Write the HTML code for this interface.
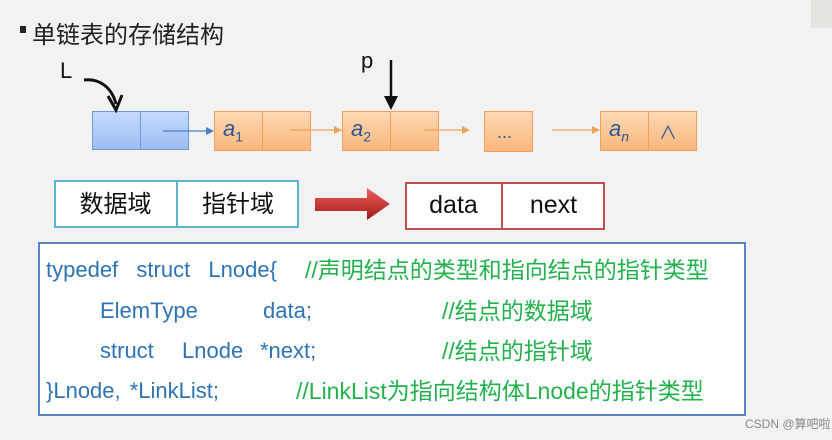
<!DOCTYPE html>
<html><head><meta charset="utf-8"><style>
body{margin:0;width:832px;height:440px;background:#f2f2f2;position:relative;overflow:hidden;font-family:"Liberation Sans","Noto Sans CJK SC",sans-serif}
.a{position:absolute;white-space:nowrap}
.bl{position:absolute;border:1.5px solid #6f9bd8;background:linear-gradient(#c6dafc,#9bbdf2);box-sizing:border-box}
.or{position:absolute;border:1.5px solid #f0a058;background:linear-gradient(#fdd9b5,#f9b77a);box-sizing:border-box}
.t{position:absolute;font-family:"Liberation Sans",sans-serif;font-style:italic;color:#2f5597;font-size:22px}
.code{position:absolute;font-size:22px;color:#2e74b5;white-space:pre;line-height:24px;word-spacing:3px}
.g{color:#22b14c;font-size:23px;word-spacing:0}
</style></head><body>
<div class="a" style="left:811px;top:0;width:21px;height:28px;background:#e6e4e0"></div>
<div class="a" style="left:20px;top:26px;width:6px;height:7px;background:#222"></div>
<div class="a" style="left:32px;top:15px;font-size:24px;color:#222">单链表的存储结构</div>
<div class="a" style="left:60px;top:58px;font-size:22px;color:#111">L</div>
<div class="a" style="left:361px;top:48px;font-size:22px;color:#111">p</div>
<div class="bl" style="left:92px;top:111px;width:49px;height:39px"></div>
<div class="bl" style="left:140px;top:111px;width:49px;height:39px"></div>
<div class="or" style="left:214px;top:111px;width:49px;height:40px"></div>
<div class="or" style="left:262px;top:111px;width:49px;height:40px"></div>
<div class="or" style="left:342px;top:111px;width:49px;height:40px"></div>
<div class="or" style="left:390px;top:111px;width:49px;height:40px"></div>
<div class="or" style="left:484px;top:111px;width:49px;height:41px"></div>
<div class="or" style="left:600px;top:111px;width:49px;height:40px"></div>
<div class="or" style="left:648px;top:111px;width:49px;height:40px"></div>
<div class="t" style="left:223px;top:116px">a<sub style="font-size:14px;font-style:normal">1</sub></div>
<div class="t" style="left:351px;top:116px">a<sub style="font-size:14px;font-style:normal">2</sub></div>
<div class="t" style="left:609px;top:116px">a<sub style="font-size:14px">n</sub></div>
<div class="a" style="left:497px;top:122px;font-size:18px;color:#2f5597">...</div>
<div class="a" style="left:659px;top:119px;font-size:18px;color:#2f5597">∧</div>
<svg class="a" style="left:0;top:0" width="832" height="440">
<path d="M84 80 C100 78 112 88 116 104" stroke="#111" stroke-width="3" fill="none"/>
<path d="M108 96 L116 110 L122 95" stroke="#111" stroke-width="3" fill="none"/>
<line x1="391" y1="60" x2="391" y2="102" stroke="#111" stroke-width="2.5"/>
<path d="M384 96 L391 110 L398 96Z" fill="#111"/>
<line x1="163" y1="131" x2="208" y2="131" stroke="#4a7fc8" stroke-width="1.3"/>
<path d="M206 127 L214 131 L206 135Z" fill="#4a7fc8"/>
<line x1="290" y1="130" x2="336" y2="130" stroke="#f0a058" stroke-width="1.3"/><path d="M334 126 L342 130 L334 134Z" fill="#f0a058"/>
<line x1="424" y1="130" x2="464" y2="130" stroke="#f0a058" stroke-width="1.3"/><path d="M462 126 L470 130 L462 134Z" fill="#f0a058"/>
<line x1="552" y1="130" x2="594" y2="130" stroke="#f0a058" stroke-width="1.3"/><path d="M592 126 L600 130 L592 134Z" fill="#f0a058"/>
<defs><linearGradient id="r" x1="0" y1="0" x2="0" y2="1"><stop offset="0" stop-color="#f06060"/><stop offset="1" stop-color="#a01818"/></linearGradient></defs>
<path d="M315 198 L367 198 L367 188 L390 204 L367 220 L367 211 L315 211Z" fill="url(#r)"/>
</svg>
<div class="a" style="left:54px;top:180px;width:245px;height:48px;border:2px solid #5bb5cc;box-sizing:border-box;background:#fff"></div>
<div class="a" style="left:176px;top:180px;width:2px;height:48px;background:#5bb5cc"></div>
<div class="a" style="left:54px;top:184px;width:123px;text-align:center;font-size:24px;color:#111">数据域</div>
<div class="a" style="left:177px;top:184px;width:122px;text-align:center;font-size:24px;color:#111">指针域</div>
<div class="a" style="left:405px;top:182px;width:200px;height:48px;border:2px solid #c0504d;box-sizing:border-box;background:#fff"></div>
<div class="a" style="left:501px;top:182px;width:2px;height:48px;background:#c0504d"></div>
<div class="a" style="left:405px;top:182px;width:97px;height:48px;line-height:46px;text-align:center;font-size:25px;color:#111">data</div>
<div class="a" style="left:502px;top:182px;width:103px;height:48px;line-height:46px;text-align:center;font-size:25px;color:#111">next</div>
<div class="a" style="left:38px;top:242px;width:708px;height:174px;border:2px solid #5b84c4;box-sizing:border-box;background:#fff"></div>
<div class="code" style="left:46px;top:258px">typedef  struct  Lnode{</div>
<div class="code g" style="left:305px;top:258px">//声明结点的类型和指向结点的指针类型</div>
<div class="code" style="left:100px;top:299px">ElemType</div>
<div class="code" style="left:263px;top:299px">data;</div>
<div class="code g" style="left:442px;top:299px">//结点的数据域</div>
<div class="code" style="left:100px;top:339px">struct</div>
<div class="code" style="left:182px;top:339px">Lnode</div>
<div class="code" style="left:260px;top:339px">*next;</div>
<div class="code g" style="left:442px;top:339px">//结点的指针域</div>
<div class="code" style="left:46px;top:379px">}Lnode, *LinkList;</div>
<div class="code g" style="left:296px;top:379px">//LinkList为指向结构体Lnode的指针类型</div>
<div class="a" style="left:745px;top:415px;font-size:12px;color:#888">CSDN @算吧啦</div>
</body></html>
